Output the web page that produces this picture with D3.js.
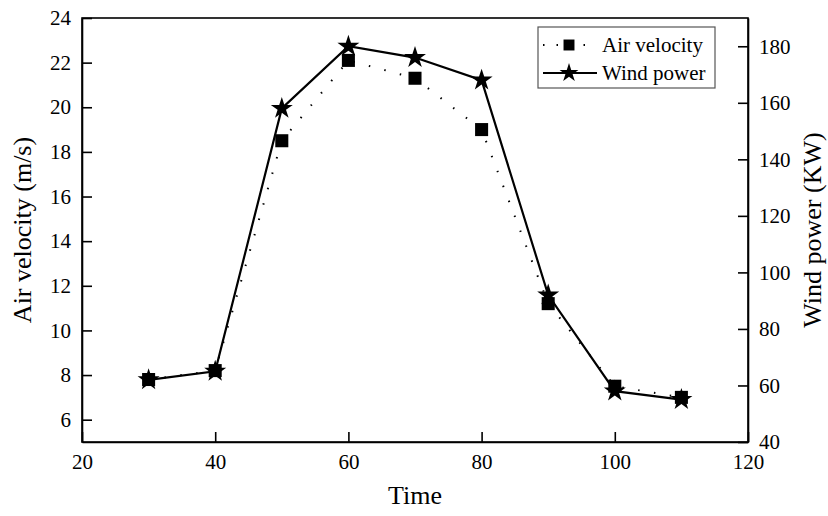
<!DOCTYPE html>
<html>
<head>
    <title>Air velocity and wind power</title>
    <script src="https://d3js.org/d3.v7.min.js"></script>
    <style>
        body { margin: 0; background: #fff; }
        svg text { fill: #000; }
    </style>
</head>
<body>
    <div id="chart"></div>

    <script>
        // data
        const times = [30, 40, 50, 60, 70, 80, 90, 100, 110];
        const airVelocity = [7.8, 8.2, 18.5, 22.1, 21.3, 19.0, 11.2, 7.5, 7.0];
        const windPower = [62, 65, 158, 180, 176, 168, 92, 58, 55];
        const xTicks = [20, 40, 60, 80, 100, 120];
        const leftTicks = [6, 8, 10, 12, 14, 16, 18, 20, 22, 24];
        const rightTicks = [40, 60, 80, 100, 120, 140, 160, 180];

        const width = 828, height = 516;
        const margin = { top: 18, right: 80, bottom: 74, left: 82 };
        const w = width - margin.left - margin.right;
        const h = height - margin.top - margin.bottom;
        const serif = '"Liberation Serif", "DejaVu Serif", "Times New Roman", Times, serif';

        const svg = d3.select("#chart").append("svg")
            .attr("width", width)
            .attr("height", height)
            .attr("font-family", serif);

        const g = svg.append("g")
            .attr("transform", "translate(" + margin.left + "," + margin.top + ")");

        const x = d3.scaleLinear().domain([20, 120]).range([0, w]);
        const yL = d3.scaleLinear().domain([5, 24]).range([h, 0]);
        const yR = d3.scaleLinear().domain([40, 190]).range([h, 0]);

        // frame
        g.append("rect")
            .attr("width", w).attr("height", h)
            .attr("fill", "none").attr("stroke", "#000").attr("stroke-width", 1.6);

        const styleAxis = sel => {
            sel.attr("font-family", serif).attr("font-size", 21);
            sel.select(".domain").attr("stroke-width", 1.6);
            sel.selectAll(".tick line").attr("stroke-width", 1.6);
        };

        g.append("g")
            .attr("transform", "translate(0," + h + ")")
            .call(d3.axisBottom(x).tickValues(xTicks).tickSizeInner(-10).tickSizeOuter(0).tickPadding(12))
            .call(styleAxis);

        g.append("g")
            .call(d3.axisLeft(yL).tickValues(leftTicks).tickSizeInner(-10).tickSizeOuter(0).tickPadding(11))
            .call(styleAxis);

        g.append("g")
            .attr("transform", "translate(" + w + ",0)")
            .call(d3.axisRight(yR).tickValues(rightTicks).tickSizeInner(-10).tickSizeOuter(0).tickPadding(11))
            .call(styleAxis);

        // axis titles
        svg.append("text")
            .attr("transform", "translate(31," + (margin.top + h / 2) + ") rotate(-90)")
            .attr("text-anchor", "middle")
            .attr("font-size", 26)
            .text("Air velocity (m/s)");

        svg.append("text")
            .attr("transform", "translate(821," + (margin.top + h / 2) + ") rotate(-90)")
            .attr("text-anchor", "middle")
            .attr("font-size", 26)
            .text("Wind power (KW)");

        svg.append("text")
            .attr("x", margin.left + w / 2)
            .attr("y", 504)
            .attr("text-anchor", "middle")
            .attr("font-size", 26)
            .text("Time");

        const star = d3.symbol().type(d3.symbolStar).size(150);
        const square = d3.symbol().type(d3.symbolSquare).size(170);

        // wind power: solid line with stars
        g.append("path")
            .datum(times.map((t, i) => [t, windPower[i]]))
            .attr("fill", "none").attr("stroke", "#000").attr("stroke-width", 2.2)
            .attr("d", d3.line().x(d => x(d[0])).y(d => yR(d[1])));

        g.selectAll(".star")
            .data(times.map((t, i) => [t, windPower[i]]))
            .enter().append("path")
            .attr("class", "star")
            .attr("transform", d => "translate(" + x(d[0]) + "," + yR(d[1]) + ")")
            .attr("d", star)
            .attr("fill", "#000");

        // air velocity: dotted line with squares
        g.append("path")
            .datum(times.map((t, i) => [t, airVelocity[i]]))
            .attr("fill", "none").attr("stroke", "#000").attr("stroke-width", 2)
            .attr("stroke-dasharray", "1.5,14.5")
            .attr("d", d3.line().x(d => x(d[0])).y(d => yL(d[1])));

        g.selectAll(".sq")
            .data(times.map((t, i) => [t, airVelocity[i]]))
            .enter().append("path")
            .attr("class", "sq")
            .attr("transform", d => "translate(" + x(d[0]) + "," + yL(d[1]) + ")")
            .attr("d", square)
            .attr("fill", "#000");

        // legend
        const lg = svg.append("g");
        lg.append("rect")
            .attr("x", 538).attr("y", 27).attr("width", 177).attr("height", 61)
            .attr("fill", "#fff").attr("stroke", "#555").attr("stroke-width", 1.2);

        lg.append("line")
            .attr("x1", 543).attr("x2", 597).attr("y1", 45).attr("y2", 45)
            .attr("stroke", "#000").attr("stroke-width", 2)
            .attr("stroke-dasharray", "1.5,12");
        lg.append("path")
            .attr("transform", "translate(569,45)")
            .attr("d", d3.symbol().type(d3.symbolSquare).size(120))
            .attr("fill", "#000");
        lg.append("text")
            .attr("x", 602).attr("y", 52)
            .attr("font-size", 21)
            .text("Air velocity");

        lg.append("line")
            .attr("x1", 543).attr("x2", 597).attr("y1", 73).attr("y2", 73)
            .attr("stroke", "#000").attr("stroke-width", 2);
        lg.append("path")
            .attr("transform", "translate(569,73)")
            .attr("d", d3.symbol().type(d3.symbolStar).size(110))
            .attr("fill", "#000");
        lg.append("text")
            .attr("x", 602).attr("y", 80)
            .attr("font-size", 21)
            .text("Wind power");
    </script>
</body>
</html>
